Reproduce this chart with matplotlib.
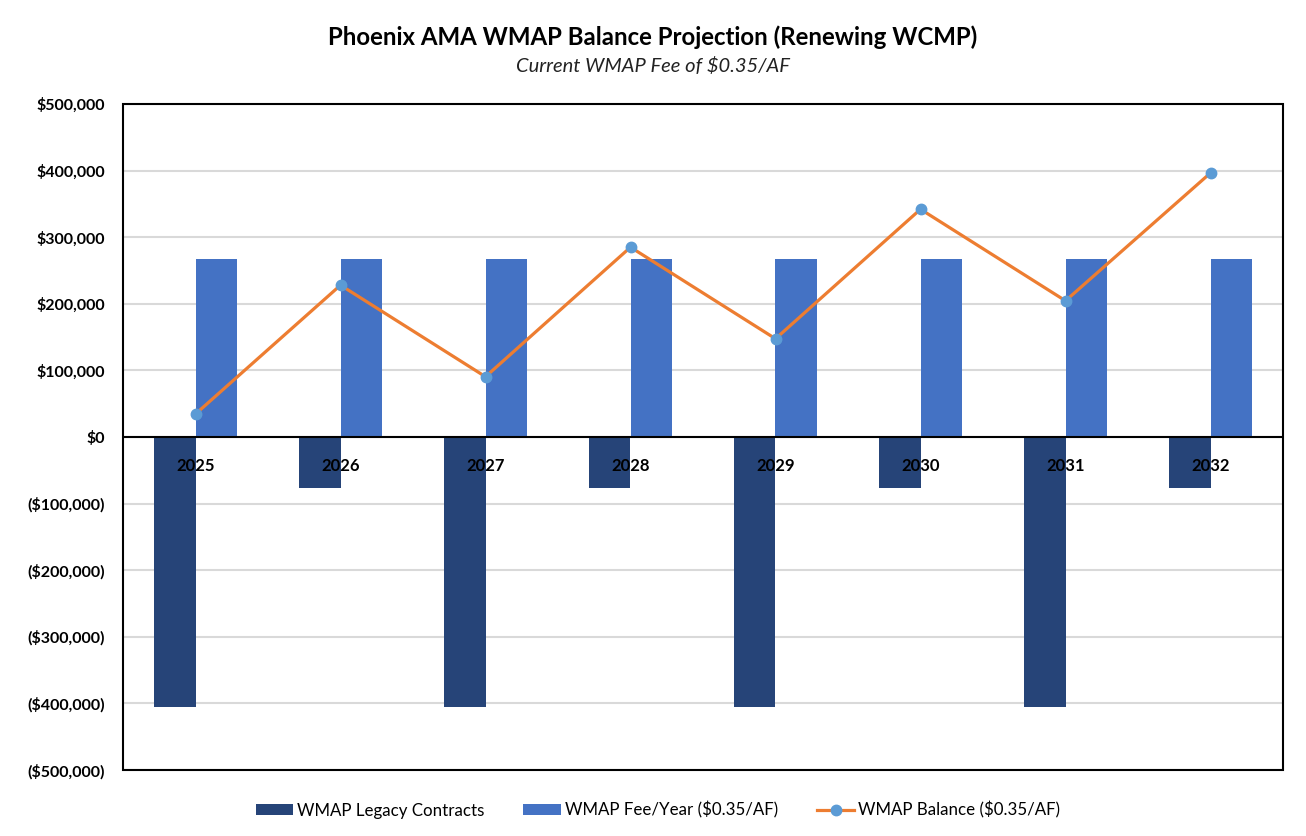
import matplotlib.pyplot as plt
import numpy as np
from matplotlib.patches import Rectangle, Patch
from matplotlib.lines import Line2D
from matplotlib.ticker import FuncFormatter

years = ["2025", "2026", "2027", "2028", "2029", "2030", "2031", "2032"]
legacy = [-405000, -76000, -405000, -76000, -405000, -76000, -405000, -76000]
fee = [267000, 267000, 267000, 267000, 267000, 267000, 267000, 267000]
balance = [34500, 228000, 90500, 285000, 147500, 342000, 204500, 396500]

navy = "#264478"
blue = "#4472C4"
orange = "#ED7D31"
marker_blue = "#5B9BD5"

plt.rcParams["font.family"] = ["Lato", "DejaVu Sans"]

fig = plt.figure(figsize=(13.06, 8.36), dpi=100)
ax = fig.add_axes([123 / 1306, 66 / 836, 1160 / 1306, 666 / 836])

x = np.arange(len(years))
w = 0.283
ax.bar(x - w / 2, legacy, width=w, color=navy, zorder=2)
ax.bar(x + w / 2, fee, width=w, color=blue, zorder=2)
ax.plot(x, balance, color=orange, lw=2.3, marker="o", markersize=7.5,
        markerfacecolor=marker_blue, markeredgecolor=marker_blue, zorder=4)

ax.set_xlim(-0.5, len(years) - 0.5)
ax.set_ylim(-500000, 500000)
ax.set_yticks(np.arange(-500000, 500001, 100000))


def money(v, pos):
    if v < 0:
        return "(${:,.0f})".format(-v)
    return "${:,.0f}".format(v)


ax.yaxis.set_major_formatter(FuncFormatter(money))
ax.grid(axis="y", color="#D9D9D9", lw=1.5, zorder=0)
ax.set_axisbelow(True)

# category labels sit just under the zero line, on top of the bars
ax.set_xticks([])
for i, yr in enumerate(years):
    ax.annotate(yr, (i, 0), xytext=(0, -21), textcoords="offset points",
                ha="center", va="center", fontsize=12, fontweight="bold", zorder=6)

ax.tick_params(axis="y", length=0, pad=13, labelsize=11.5)
for lab in ax.get_yticklabels():
    lab.set_fontweight("bold")

for s in ["top", "left", "right", "bottom"]:
    ax.spines[s].set_visible(False)
ax.axhline(0, color="black", lw=1.5, zorder=3)
ax.add_patch(Rectangle((0, 0), 1, 1, transform=ax.transAxes, fill=False,
                       edgecolor="black", lw=1.5, zorder=5, clip_on=False))

fig.text(0.5, 1 - 37 / 836, "Phoenix AMA WMAP Balance Projection (Renewing WCMP)",
         ha="center", va="center", fontsize=17.3, fontweight="bold")
fig.text(0.5, 1 - 66 / 836, "Current WMAP Fee of $0.35/AF",
         ha="center", va="center", fontsize=14.5, style="italic", color="#222222")

handles = [
    Patch(facecolor=navy, label="WMAP Legacy Contracts"),
    Patch(facecolor=blue, label="WMAP Fee/Year ($0.35/AF)"),
    Line2D([0], [0], color=orange, lw=2.3, marker="o", markersize=7.5,
           markerfacecolor=marker_blue, markeredgecolor=marker_blue,
           label="WMAP Balance ($0.35/AF)"),
]
fig.legend(handles=handles, loc="center", bbox_to_anchor=(658 / 1306, 1 - 810 / 836),
           ncol=3, frameon=False, fontsize=12.2, handlelength=2.2,
           handleheight=0.65, columnspacing=2.3, handletextpad=0.25)

fig.savefig("out.png", dpi=100, facecolor="white")
